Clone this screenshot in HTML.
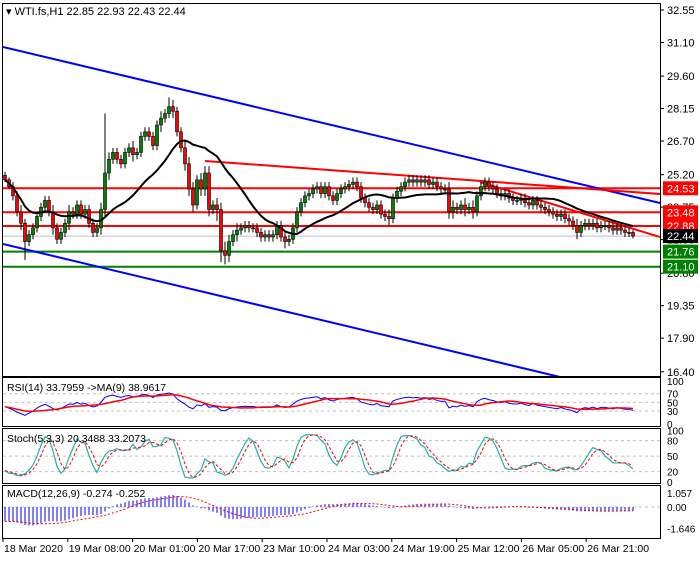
<!DOCTYPE html>
<html><head><meta charset="utf-8"><style>
html,body{margin:0;padding:0;background:#fff;}
body{width:700px;height:560px;overflow:hidden;font-family:"Liberation Sans",sans-serif;}
svg text{font-family:"Liberation Sans",sans-serif;}
</style></head><body>
<svg id="chart" width="700" height="560" xmlns="http://www.w3.org/2000/svg"></svg>
<script>
const closes=[24.9,24.6,24.2,23.5,23.0,22.2,22.5,22.8,23.3,23.7,24.0,23.5,22.8,22.3,22.6,23.0,23.5,23.4,23.8,23.4,
23.6,23.0,22.6,22.8,23.6,25.2,25.8,26.1,25.8,25.6,26.1,26.3,26.0,26.1,26.8,27.0,26.8,26.4,27.3,27.6,
27.8,28.1,27.9,27.0,26.3,25.6,24.5,23.8,24.9,24.5,25.2,23.6,23.8,23.6,21.8,21.6,22.2,22.5,22.7,22.8,
22.9,22.8,22.8,22.6,22.4,22.5,22.4,22.5,22.9,22.4,22.2,22.3,22.8,23.5,23.9,24.2,24.3,24.5,24.6,24.3,
24.6,24.2,24.0,24.3,24.5,24.6,24.7,24.8,24.6,24.1,23.9,23.7,23.6,23.8,23.4,23.3,23.2,24.1,24.4,24.6,
24.8,24.9,24.8,24.9,24.8,24.9,24.7,24.8,24.6,24.5,24.5,23.5,23.7,23.6,23.8,23.6,23.7,23.5,24.2,24.6,
24.8,24.6,24.5,24.3,24.2,24.3,24.1,24.0,24.0,24.1,23.9,23.8,24.0,23.8,23.7,23.6,23.5,23.4,23.3,23.4,
23.2,23.1,22.9,22.6,22.9,23.0,22.9,23.0,22.8,22.9,22.9,22.8,22.7,22.8,22.7,22.6,22.6,22.44];
const firstOpen=25.1;
const priorEma12=25.8, priorEma26=26.9;
const upWicks=[0.15,0.1,0.2,0.2,0.3,0.2,0.2,0.2,0.2,0.2,0.2,0.2,0.3,0.2,0.2,0.2,0.3,0.2,0.2,0.2,
0.2,0.2,0.2,0.2,0.3,2.6,0.3,0.2,0.2,0.2,0.2,0.2,0.3,0.2,0.2,0.2,0.2,0.2,0.2,0.3,
0.2,0.4,0.3,0.2,0.2,0.3,0.3,0.3,0.2,0.3,0.3,0.3,0.2,0.3,0.3,0.4,0.3,0.2,0.3,0.2,
0.2,0.2,0.2,0.2,0.2,0.2,0.2,0.2,0.2,0.2,0.3,0.2,0.2,0.2,0.2,0.2,0.2,0.2,0.2,0.2,
0.2,0.2,0.2,0.2,0.2,0.2,0.2,0.2,0.2,0.2,0.2,0.2,0.2,0.2,0.2,0.2,0.3,0.2,0.2,0.2,
0.2,0.2,0.2,0.2,0.2,0.2,0.2,0.2,0.2,0.2,0.2,0.3,0.3,0.2,0.2,0.3,0.2,0.3,0.2,0.2,
0.2,0.2,0.2,0.2,0.2,0.2,0.2,0.2,0.2,0.2,0.2,0.2,0.2,0.2,0.2,0.2,0.2,0.2,0.2,0.2,
0.2,0.2,0.2,0.3,0.2,0.2,0.2,0.2,0.2,0.2,0.2,0.2,0.2,0.2,0.2,0.2,0.2,0.1];
const downWicks=[0.1,0.1,0.2,0.2,0.3,0.8,0.2,0.2,0.2,0.2,0.2,0.2,0.3,0.2,0.2,0.2,0.3,0.2,0.2,0.2,
0.2,0.2,0.2,0.2,0.3,0.3,0.3,0.2,0.2,0.2,0.2,0.2,0.3,0.2,0.2,0.2,0.2,0.2,0.2,0.3,
0.2,0.2,0.3,0.2,0.2,0.3,0.3,0.3,0.2,0.3,0.3,0.3,0.2,0.5,0.5,0.4,0.3,0.2,0.3,0.2,
0.2,0.2,0.2,0.2,0.2,0.2,0.2,0.2,0.2,0.2,0.3,0.2,0.2,0.2,0.2,0.2,0.2,0.2,0.2,0.2,
0.2,0.2,0.2,0.2,0.2,0.2,0.2,0.2,0.2,0.2,0.2,0.2,0.2,0.2,0.2,0.2,0.3,0.2,0.2,0.2,
0.2,0.2,0.2,0.2,0.2,0.2,0.2,0.2,0.2,0.2,0.2,0.3,0.3,0.2,0.2,0.3,0.2,0.3,0.2,0.2,
0.2,0.2,0.2,0.2,0.2,0.2,0.2,0.2,0.2,0.2,0.2,0.2,0.2,0.2,0.2,0.2,0.2,0.2,0.2,0.2,
0.2,0.2,0.2,0.3,0.2,0.2,0.2,0.2,0.2,0.2,0.2,0.2,0.2,0.2,0.2,0.2,0.2,0.1];
const priceTicks=[32.55,31.10,29.60,28.15,26.70,25.20,23.75,22.30,20.80,19.35,17.90,16.40];
const levels=[24.53,23.48,22.88];
const supports=[21.76,21.10];
const lastPrice=22.44;
const timeLabels=["18 Mar 2020","19 Mar 08:00","20 Mar 01:00","20 Mar 17:00","23 Mar 10:00","24 Mar 03:00","24 Mar 19:00","25 Mar 12:00","26 Mar 05:00","26 Mar 21:00"];
const rsiTicks=[100,70,50,30,0];
const stochTicks=[100,80,50,20,0];
const macdTicks=[1.057,0.00,-1.646];

const svg=document.getElementById('chart');
const NS='http://www.w3.org/2000/svg';
function mk(tag,attrs,parent){const e=document.createElementNS(NS,tag);for(const k in attrs)e.setAttribute(k,attrs[k]);(parent||svg).appendChild(e);return e;}
const X0=5,STEP=4.0,RIGHT=660;
const xOf=i=>X0+i*STEP;
const yP=p=>188.3+(24.53-p)*22.86;
const yTick=p=>10+(32.55-p)*22.4;
const yRsi=v=>424-v*0.4325;
const ySto=v=>482-v*0.517;
const yMacd=v=>507-v*13.2;

let f=mk('rect',{x:2.5,y:3.5,width:RIGHT-2,height:373,fill:'none',stroke:'#000','stroke-width':1});

[[377,426,'rsi-panel'],[428,483,'stoch-panel'],[485,538,'macd-panel']].forEach(r=>{
 const e=mk('rect',{x:2.5,y:r[0]+.5,width:RIGHT-2,height:r[1]-r[0],fill:'none',stroke:'#000','stroke-width':1});
 
 
});

const defs=mk('defs',{});
const cp=mk('clipPath',{id:'mc'},defs);mk('rect',{x:3,y:4,width:RIGHT-3,height:372},cp);
const cpr=mk('clipPath',{id:'rc'},defs);mk('rect',{x:3,y:378,width:RIGHT-3,height:48},cpr);
const cps=mk('clipPath',{id:'sc'},defs);mk('rect',{x:3,y:429,width:RIGHT-3,height:54},cps);
const cpm=mk('clipPath',{id:'mcc'},defs);mk('rect',{x:3,y:486,width:RIGHT-3,height:52},cpm);
const g=mk('g',{'clip-path':'url(#mc)'});

const gl=mk('line',{x1:3,x2:RIGHT,y1:yP(lastPrice),y2:yP(lastPrice),stroke:'#c0c0c0','stroke-width':1},g);

levels.forEach(l=>{const e=mk('line',{x1:3,x2:RIGHT,y1:yP(l),y2:yP(l),stroke:'#ff0000','stroke-width':2},g);
 
 });
supports.forEach(l=>{const e=mk('line',{x1:3,x2:RIGHT,y1:yP(l),y2:yP(l),stroke:'#008000','stroke-width':2},g);
 
 });
[[3,47,RIGHT,203,'#0000ff','upper-channel-line'],[3,244,560,377,'#0000ff','lower-channel-line'],[205,161,RIGHT,194,'#ff0000','descending-resistance-line'],[480,182,RIGHT,237,'#ff0000','short-trend-line']].forEach(t=>{
 const e=mk('line',{x1:t[0],y1:t[1],x2:t[2],y2:t[3],stroke:t[4],'stroke-width':2},g);
 
 });

const ma=[];for(let i=0;i<closes.length;i++){let s=0,n=0;for(let j=Math.max(0,i-19);j<=i;j++){s+=closes[j];n++;}ma.push(s/n);}
let prev=firstOpen;
closes.forEach((c,i)=>{
 const o=prev;prev=c;const hi=Math.max(o,c)+upWicks[i],lo=Math.min(o,c)-downWicks[i];
 const x=xOf(i);const up=c>=o;
 const cg=mk('g',{},g);
 
 
 mk('line',{x1:x,x2:x,y1:yP(hi),y2:yP(lo),stroke:'#000','stroke-width':1},cg);
 const t=Math.min(yP(o),yP(c)),h=Math.max(1,Math.abs(yP(o)-yP(c)));
 mk('rect',{x:x-1.5,y:t,width:3,height:h,fill:up?'#008000':'#ff0000',stroke:'#000','stroke-width':0.6},cg);
});
const mal=mk('polyline',{points:ma.map((v,i)=>xOf(i)+','+yP(v)).join(' '),fill:'none',stroke:'#000','stroke-width':2},g);


priceTicks.forEach(p=>{const y=yTick(p);mk('line',{x1:RIGHT,x2:RIGHT+4,y1:y,y2:y,stroke:'#000'});
 const t=mk('text',{x:667,y:y+4,'font-size':11,fill:'#000'});t.textContent=p.toFixed(2);
 
 });
function box(p,bg,name){const y=yP(p);const b=mk('rect',{x:663,y:y-7,width:35,height:14,fill:bg});
 
 
 const t=mk('text',{x:667,y:y+4,'font-size':11,fill:'#fff'});t.textContent=p.toFixed(2);
 
 }
levels.forEach(l=>box(l,'#ff0000','resistance-price-box'));
supports.forEach(l=>box(l,'#008000','support-price-box'));
box(lastPrice,'#000','last-price-box');

const hd=mk('text',{x:6,y:15,'font-size':11,fill:'#000'});hd.textContent='\u25BE WTI.fs,H1  22.85 22.93 22.43 22.44';


const rsi=[];let ag=0,al=0;
for(let i=0;i<closes.length;i++){const d=i?closes[i]-closes[i-1]:0;const gn=Math.max(d,0),ls=Math.max(-d,0);
 if(i===0){ag=0.1;al=0.15;}else{ag=(ag*13+gn)/14;al=(al*13+ls)/14;}rsi.push(100-100/(1+ag/(al||1e-6)));}
const rsiMa=rsi.map((v,i)=>{let s=0,n=0;for(let j=Math.max(0,i-8);j<=i;j++){s+=rsi[j];n++;}return s/n;});
const gr=mk('g',{'clip-path':'url(#rc)'});
[70,50,30].forEach(v=>mk('line',{x1:3,x2:RIGHT,y1:yRsi(v),y2:yRsi(v),stroke:'#c0c0c0','stroke-dasharray':'3,3'},gr));
let e=mk('polyline',{points:rsi.map((v,i)=>xOf(i)+','+yRsi(v)).join(' '),fill:'none',stroke:'#0000ff','stroke-width':1},gr);

e=mk('polyline',{points:rsiMa.map((v,i)=>xOf(i)+','+yRsi(v)).join(' '),fill:'none',stroke:'#ff0000','stroke-width':1.5},gr);

rsiTicks.forEach(v=>{const t=mk('text',{x:667,y:yRsi(v)+4,'font-size':10});t.textContent=v;
 
 });
e=mk('text',{x:7,y:391,'font-size':10.5});e.textContent='RSI(14) 33.7959  ->MA(9) 38.9617';


let po=firstOpen;const hs=[],ls=[];
closes.forEach((c,i)=>{const o=po;po=c;hs.push(Math.max(o,c)+upWicks[i]);ls.push(Math.min(o,c)-downWicks[i]);});
const kraw=closes.map((c,i)=>{let h=-1e9,l=1e9;for(let j=Math.max(0,i-4);j<=i;j++){h=Math.max(h,hs[j]);l=Math.min(l,ls[j]);}return {c:c-l,r:h-l};});
const K=kraw.map((v,i)=>{let a=0,b=0;for(let j=Math.max(0,i-2);j<=i;j++){a+=kraw[j].c;b+=kraw[j].r;}return b?100*a/b:50;});
const D=K.map((v,i)=>{let s=0,n=0;for(let j=Math.max(0,i-2);j<=i;j++){s+=K[j];n++;}return s/n;});
const gs=mk('g',{'clip-path':'url(#sc)'});
[80,50,20].forEach(v=>mk('line',{x1:3,x2:RIGHT,y1:ySto(v),y2:ySto(v),stroke:'#c0c0c0','stroke-dasharray':'3,3'},gs));
e=mk('polyline',{points:K.map((v,i)=>xOf(i)+','+ySto(v)).join(' '),fill:'none',stroke:'#20b2aa','stroke-width':1.2},gs);

e=mk('polyline',{points:D.map((v,i)=>xOf(i)+','+ySto(v)).join(' '),fill:'none',stroke:'#ff0000','stroke-width':1,'stroke-dasharray':'3,2'},gs);

stochTicks.forEach(v=>{const t=mk('text',{x:667,y:ySto(v)+4,'font-size':10});t.textContent=v;
 
 });
e=mk('text',{x:7,y:442,'font-size':10.5});e.textContent='Stoch(5,3,3) 20.3488 33.2073';


function ema(a,n,seed){const k=2/(n+1);const o=[];a.forEach((v,i)=>o.push(v*k+(i?o[i-1]:seed)*(1-k)));return o;}
const e12=ema(closes,12,priorEma12),e26=ema(closes,26,priorEma26);
const macd=closes.map((c,i)=>e12[i]-e26[i]);
const sig=macd.map((v,i)=>{let s=0,n=0;for(let j=Math.max(0,i-8);j<=i;j++){s+=macd[j];n++;}return s/n;});
const gm=mk('g',{'clip-path':'url(#mcc)'});
mk('line',{x1:3,x2:RIGHT,y1:yMacd(0),y2:yMacd(0),stroke:'#c0c0c0','stroke-dasharray':'3,3'},gm);
macd.forEach((v,i)=>{const b=mk('line',{x1:xOf(i),x2:xOf(i),y1:yMacd(0),y2:yMacd(v),stroke:'#0000ff','stroke-width':1},gm);
 
 });
e=mk('polyline',{points:sig.map((v,i)=>xOf(i)+','+yMacd(v)).join(' '),fill:'none',stroke:'#ff0000','stroke-width':1,'stroke-dasharray':'2,2'},gm);

macdTicks.forEach(v=>{const t=mk('text',{x:667,y:yMacd(v)+4,'font-size':10});t.textContent=v.toFixed(v===0?2:3);
 
 });
e=mk('text',{x:7,y:497,'font-size':10.5});e.textContent='MACD(12,26,9) -0.274 -0.252';


timeLabels.forEach((s,k)=>{const x=3+k*16*4.05;mk('line',{x1:x,x2:x,y1:538,y2:542,stroke:'#000'});
 const t=mk('text',{x:x+1,y:552,'font-size':10.5});t.textContent=s;
 
 });
</script>
</body></html>
